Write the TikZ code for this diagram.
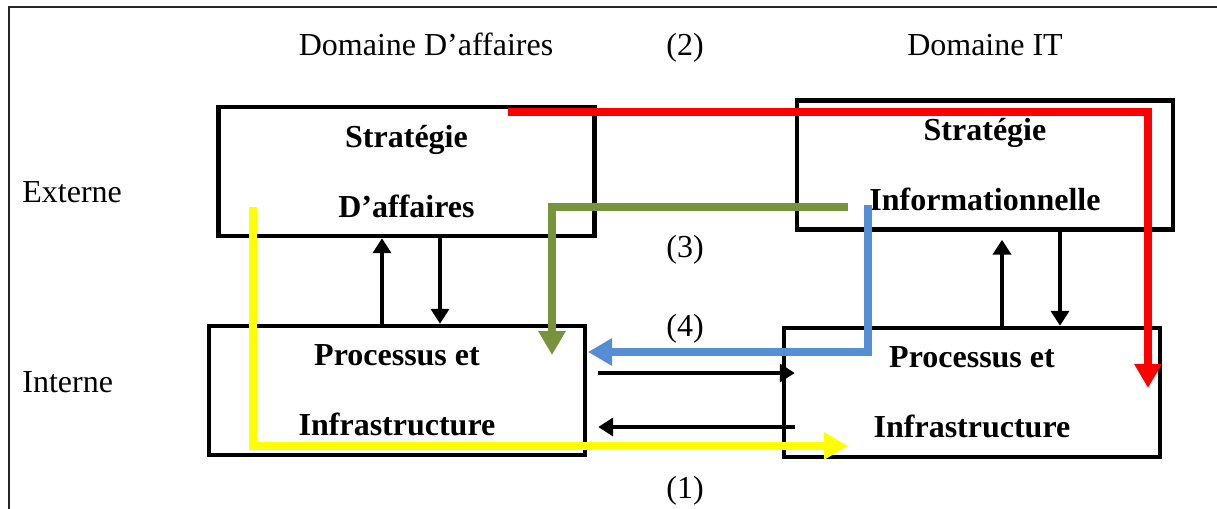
\documentclass[tikz,border=0pt]{standalone}
\usepackage{fontspec}
\setmainfont{Liberation Serif}
\usetikzlibrary{arrows.meta, calc, positioning}
\definecolor{flowRed}{HTML}{FF0000}
\definecolor{flowGreen}{HTML}{77933C}
\definecolor{flowBlue}{HTML}{558ED5}
\definecolor{flowYellow}{HTML}{FFFF00}
\tikzset{
    frameLine/.style={line width=1pt, black!85},
    stratBox/.style={rectangle, draw, line width=2.2pt, minimum width=188pt, minimum height=64.5pt, inner sep=0pt, align=center, font=\fontsize{16}{35}\selectfont\bfseries},
    axisLabel/.style={font=\fontsize{16}{19}\selectfont, inner sep=0pt, anchor=base},
    linkArrow/.style={-{Triangle[length=7.5pt, width=9pt]}, line width=2.2pt},
    flowArrow/.style={-{Triangle[length=12pt, width=13pt]}, line width=4pt},
}
\newcommand{\drawFlow}[4]{
    \draw[flowArrow, draw=#1] (#2) #3 (#4);
}

\begin{document}
\begin{tikzpicture}[x=0.5pt, y=-0.5pt]

    \useasboundingbox (0,0) rectangle (1217,509);
    \draw[frameLine] (9,509) -- (9,7) -- (1217,7);

    % axis labels
    \node[axisLabel] (domA) at (426,55) {Domaine D’affaires};
    \node[axisLabel] (num2) at (685,55) {(2)};
    \node[axisLabel] (domIT) at (985,55) {Domaine IT};
    \node[axisLabel, anchor=base west] (ext) at (22,202) {Externe};
    \node[axisLabel, anchor=base west] (int) at (22,392) {Interne};
    \node[axisLabel] (num3) at (685,257) {(3)};
    \node[axisLabel] (num4) at (685,336) {(4)};
    \node[axisLabel] (num1) at (685,498) {(1)};

    % boxes
    \node[stratBox] (SA) at (406.5,171.5) {Stratégie\\D’affaires};
    \node[stratBox] (SI) at (985,165) {Stratégie\\Informationnelle};
    \node[stratBox] (PA) at (397,390.5) {Processus et\\Infrastructure};
    \node[stratBox] (PI) at (972,392.5) {Processus et\\Infrastructure};

    % vertical links
    \draw[linkArrow] (382,0 |- PA.north) -- (382,0 |- SA.south);
    \draw[linkArrow] (440,0 |- SA.south) -- (440,0 |- PA.north);
    \draw[linkArrow, shorten >=4pt] (1002,0 |- PI.north) -- (1002,0 |- SI.south);
    \draw[linkArrow] (1060,0 |- SI.south) -- (1060,0 |- PI.north);

    % horizontal links
    \draw[linkArrow, shorten <=5.5pt, shorten >=-6.5pt] (PA.east |- 0,373) -- (PI.west |- 0,373);
    \draw[linkArrow, shorten <=-6.5pt, shorten >=5.5pt] (PI.west |- 0,427) -- (PA.east |- 0,427);

    % alignment flows
    \coordinate (redS) at (508,112);
    \coordinate (redE) at (1148,388);
    \coordinate (greenS) at (848,207);
    \coordinate (greenE) at (552,355);
    \coordinate (blueS) at (868,205);
    \coordinate (blueE) at (588,352);
    \coordinate (yellowS) at (253,207);
    \coordinate (yellowE) at (848,446);

    \drawFlow{flowRed}{redS}{-|}{redE}
    \drawFlow{flowGreen}{greenS}{-|}{greenE}
    \drawFlow{flowBlue}{blueS}{|-}{blueE}
    \drawFlow{flowYellow}{yellowS}{|-}{yellowE}

\end{tikzpicture}
\end{document}
